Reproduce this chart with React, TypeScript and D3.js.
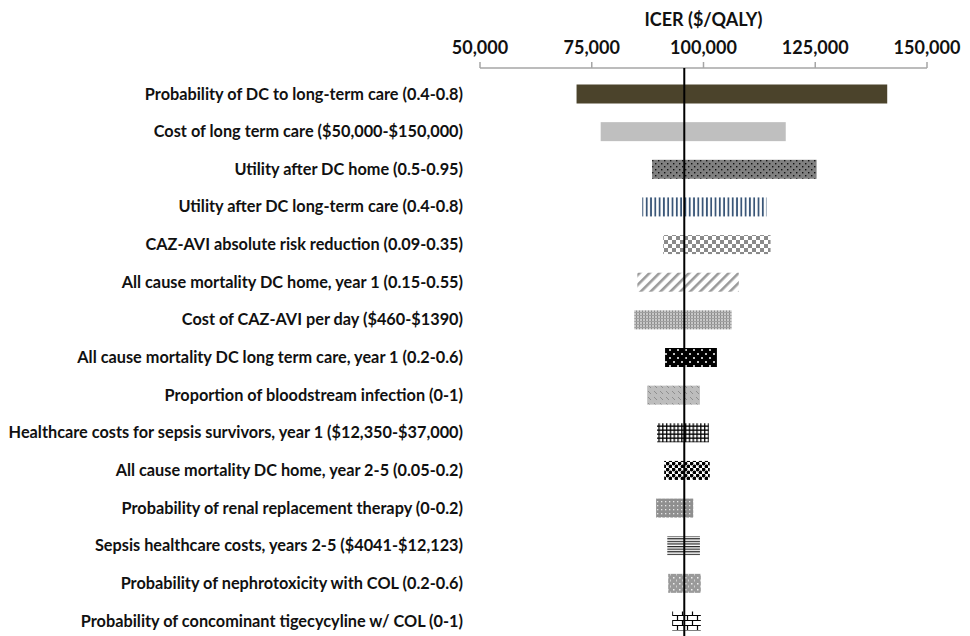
import React from 'react';
import * as d3 from 'd3';

// tornado diagram: ICER range for each parameter
const params = [
  'Probability of DC to long-term care (0.4-0.8)',
  'Cost of long term care ($50,000-$150,000)',
  'Utility after DC home (0.5-0.95)',
  'Utility after DC long-term care (0.4-0.8)',
  'CAZ-AVI absolute risk reduction (0.09-0.35)',
  'All cause mortality DC home, year 1 (0.15-0.55)',
  'Cost of CAZ-AVI per day ($460-$1390)',
  'All cause mortality DC long term care, year 1 (0.2-0.6)',
  'Proportion of bloodstream infection (0-1)',
  'Healthcare costs for sepsis survivors, year 1 ($12,350-$37,000)',
  'All cause mortality DC home, year 2-5 (0.05-0.2)',
  'Probability of renal replacement therapy (0-0.2)',
  'Sepsis healthcare costs, years 2-5 ($4041-$12,123)',
  'Probability of nephrotoxicity with COL (0.2-0.6)',
  'Probability of concominant tigecycyline w/ COL (0-1)',
];
const lowIcer = [71600, 77000, 88500, 86300, 91000, 85200, 84500, 91400, 87400, 89600, 91200, 89400, 91900, 92100, 93000];
const highIcer = [141100, 118400, 125300, 114100, 115000, 107900, 106300, 103000, 99200, 101200, 101400, 97700, 99200, 99400, 99400];
const baseIcer = 95700;
const xTicks = [50000, 75000, 100000, 125000, 150000];

const W = 970;
const H = 636;

const Patterns = () => (
  <defs>
    <pattern id="p2" width="6" height="6" patternUnits="userSpaceOnUse">
      <rect width="6" height="6" fill="#808080" />
      <rect x="1" y="1" width="1.4" height="1.4" fill="#111" />
      <rect x="4" y="4" width="1.4" height="1.4" fill="#111" />
    </pattern>
    <pattern id="p3" width="4.3" height="10" patternUnits="userSpaceOnUse">
      <rect width="4.3" height="10" fill="#fff" />
      <rect x="0.8" width="1.8" height="10" fill="#3a5678" />
    </pattern>
    <pattern id="p4" width="8" height="8" patternUnits="userSpaceOnUse">
      <rect width="8" height="8" fill="#fff" />
      <rect width="4" height="4" fill="#8a8a8a" />
      <rect x="4" y="4" width="4" height="4" fill="#8a8a8a" />
    </pattern>
    <pattern id="p5" width="7" height="7" patternUnits="userSpaceOnUse" patternTransform="rotate(45)">
      <rect width="7" height="7" fill="#fff" />
      <rect width="2.6" height="7" fill="#9a9a9a" />
    </pattern>
    <pattern id="p6" width="3" height="3" patternUnits="userSpaceOnUse">
      <rect width="3" height="3" fill="#c8c8c8" />
      <rect width="1" height="3" fill="#8c8c8c" />
      <rect width="3" height="1" fill="#a0a0a0" />
    </pattern>
    <pattern id="p7" width="8" height="8" patternUnits="userSpaceOnUse">
      <rect width="8" height="8" fill="#000" />
      <circle cx="2" cy="2" r="1" fill="#fff" />
      <circle cx="6" cy="6" r="1" fill="#fff" />
    </pattern>
    <pattern id="p8" width="6" height="6" patternUnits="userSpaceOnUse">
      <rect width="6" height="6" fill="#bdbdbd" />
      <line x1="0" y1="1" x2="3" y2="4" stroke="#8e8e8e" strokeWidth="1" />
    </pattern>
    <pattern id="p9" width="3.8" height="4" patternUnits="userSpaceOnUse">
      <rect width="3.8" height="4" fill="#fff" />
      <rect x="1" width="1.3" height="4" fill="#000" />
      <rect y="1.5" width="3.8" height="1.3" fill="#000" />
    </pattern>
    <pattern id="p10" width="6" height="6" patternUnits="userSpaceOnUse">
      <rect width="6" height="6" fill="#fff" />
      <circle cx="1.5" cy="1.5" r="1.9" fill="#000" />
      <circle cx="4.5" cy="4.5" r="1.9" fill="#000" />
    </pattern>
    <pattern id="p11" width="4" height="4" patternUnits="userSpaceOnUse">
      <rect width="4" height="4" fill="#8f8f8f" />
      <rect x="1" y="1" width="1.3" height="1.3" fill="#e6e6e6" />
    </pattern>
    <pattern id="p12" width="10" height="2.6" patternUnits="userSpaceOnUse">
      <rect width="10" height="2.6" fill="#fff" />
      <rect width="10" height="1.2" fill="#222" />
    </pattern>
    <pattern id="p13" width="6" height="6" patternUnits="userSpaceOnUse">
      <rect width="6" height="6" fill="#9a9a9a" />
      <rect x="1" y="1" width="1.5" height="1.5" fill="#eee" />
      <rect x="4" y="3.5" width="1" height="2" fill="#d0d0d0" />
    </pattern>
    <pattern id="p14" width="10" height="10" patternUnits="userSpaceOnUse">
      <rect width="10" height="10" fill="#fff" />
      <path d="M0,0.5H10M0,5.5H10M2.5,0.5V5.5M7.5,5.5V10" stroke="#000" strokeWidth="1.2" fill="none" />
    </pattern>
  </defs>
);

const fills = ['#4b432b', '#bfbfbf', 'url(#p2)', 'url(#p3)', 'url(#p4)', 'url(#p5)', 'url(#p6)', 'url(#p7)',
  'url(#p8)', 'url(#p9)', 'url(#p10)', 'url(#p11)', 'url(#p12)', 'url(#p13)', 'url(#p14)'];

const App: React.FC = () => {
  const x = d3.scaleLinear().domain([50000, 150000]).range([480, 927]);
  const y = d3.scalePoint<string>().domain(params).range([94, 621]);
  const barH = 19;
  const axisY = 68;
  const fmt = d3.format(',');
  const font = 'Lato, "Open Sans", sans-serif';

  return (
    <svg width={W} height={H} style={{ position: 'absolute', left: 0, top: 0, background: '#fff' }} fontFamily={font}>
      <Patterns />
      <text x={(x(50000) + x(150000)) / 2} y={26} textAnchor="middle" fontSize={18} fontWeight="bold" fill="#111">
        ICER ($/QALY)
      </text>
      <line x1={x(50000)} x2={x(150000)} y1={axisY} y2={axisY} stroke="#a6a6a6" strokeWidth={1.5} />
      {xTicks.map(t => (
        <g key={t}>
          <line x1={x(t)} x2={x(t)} y1={axisY} y2={axisY - 6} stroke="#a6a6a6" strokeWidth={1.5} />
          <text x={x(t)} y={54} textAnchor="middle" fontSize={18} fontWeight="bold" fill="#111">{fmt(t)}</text>
        </g>
      ))}
      {params.map((p, i) => (
        <g key={p}>
          <text x={463} y={(y(p) as number) + 5.5} textAnchor="end" fontSize={16.3} fontWeight="bold" fill="#111">{p}</text>
          <rect x={x(lowIcer[i])} y={(y(p) as number) - barH / 2} width={x(highIcer[i]) - x(lowIcer[i])} height={barH} fill={fills[i]} />
        </g>
      ))}
      <line x1={x(baseIcer)} x2={x(baseIcer)} y1={axisY} y2={H} stroke="#000" strokeWidth={2} />
    </svg>
  );
};

export default App;
